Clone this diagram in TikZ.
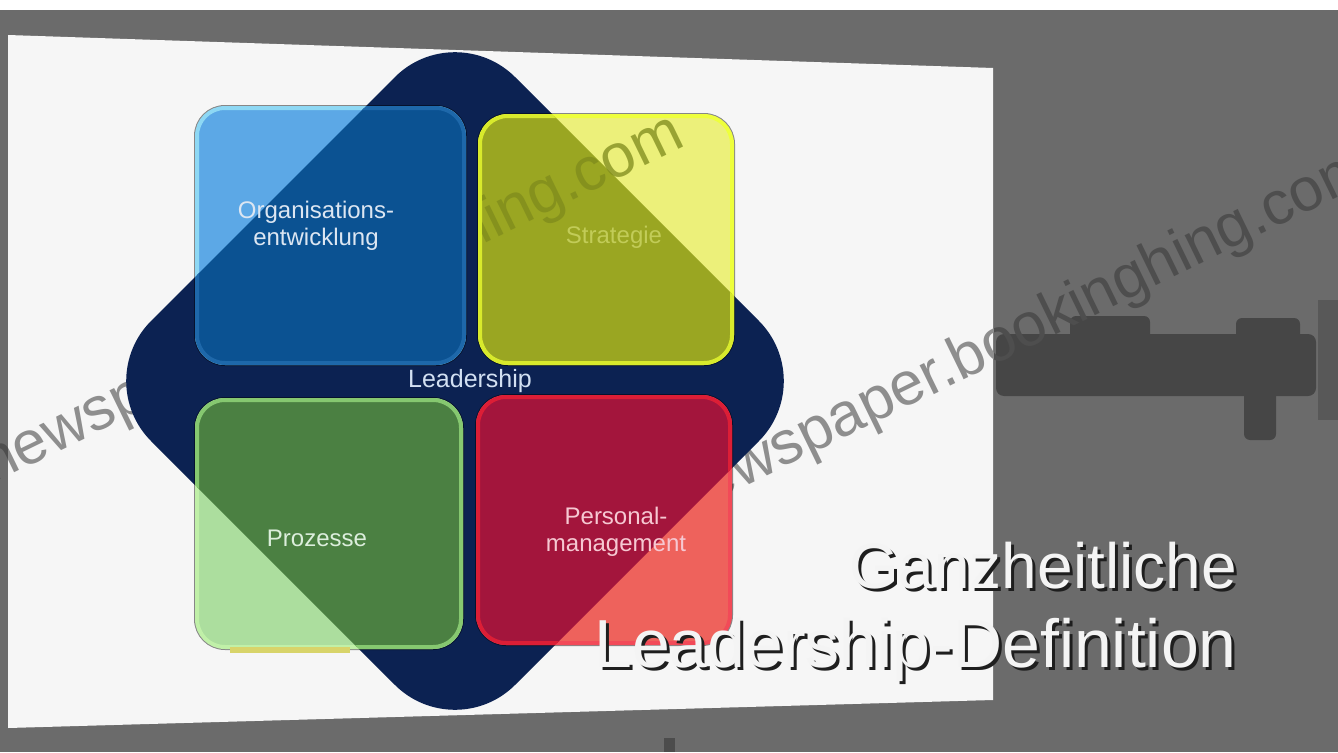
\documentclass[tikz,border=0pt]{standalone}
\usepackage{fontspec}
\setmainfont{Liberation Sans}
\definecolor{bgG}{HTML}{6B6B6B}
\definecolor{slideW}{HTML}{F6F6F6}
\definecolor{navy}{HTML}{0C2252}
\definecolor{bluL}{HTML}{5CA8E6}
\definecolor{bluD}{HTML}{0B5292}
\definecolor{bluRL}{HTML}{8ED8F4}
\definecolor{bluRD}{HTML}{1E68AA}
\definecolor{yelL}{HTML}{ECF07A}
\definecolor{yelD}{HTML}{9AA622}
\definecolor{yelRL}{HTML}{EEFF3C}
\definecolor{yelRD}{HTML}{D8EA2C}
\definecolor{grnL}{HTML}{ACDE9E}
\definecolor{grnD}{HTML}{4B8042}
\definecolor{grnRL}{HTML}{C0F0A8}
\definecolor{grnRD}{HTML}{86C870}
\definecolor{redL}{HTML}{EE625C}
\definecolor{redD}{HTML}{A3153C}
\definecolor{redRL}{HTML}{F24A58}
\definecolor{redRD}{HTML}{DC1E36}
\definecolor{blobG}{HTML}{464646}
\definecolor{wmG}{HTML}{8E8E8E}
\definecolor{wmDark}{HTML}{4E4E4E}
\definecolor{wmOl}{HTML}{7E8A1C}
\definecolor{lblB}{HTML}{DCE6F2}
\definecolor{lblY}{HTML}{C2CC58}
\definecolor{lblL}{HTML}{D2E0F2}
\definecolor{lblG}{HTML}{DCEEDC}
\definecolor{lblR}{HTML}{F6C8D2}
\definecolor{shd}{HTML}{1E1E1E}
\definecolor{ttlW}{HTML}{F4F4F4}
\definecolor{stripY}{HTML}{D8D46A}
\begin{document}
\begin{tikzpicture}[x=1pt,y=-1pt,
  sq/.style={rounded corners=28},
  rim/.style={rounded corners=28, line width=4},
  edge/.style={rounded corners=28, line width=6, draw=black, draw opacity=0.45},
  lbl/.style={font=\fontsize{24}{27}\selectfont, align=center, inner sep=0},
  wm/.style={font=\fontsize{61}{61}\selectfont, inner sep=0, anchor=base west, rotate=26},
  ttl/.style={inner sep=0, anchor=base east}
]
\useasboundingbox (0,0) rectangle (1338,752);
% background and slide
\fill[bgG] (0,0) rectangle (1338,752);
\fill[white] (0,0) rectangle (1338,10);
% blurred dark shape on the right
\fill[blobG, rounded corners=8] (996,334) rectangle (1316,396);
\fill[blobG, rounded corners=6] (1070,316) rectangle (1150,340);
\fill[blobG, rounded corners=6] (1236,318) rectangle (1300,340);
\fill[blobG, rounded corners=6] (1244,390) rectangle (1276,440);
\fill[blobG, opacity=0.5] (1318,300) rectangle (1338,420);
\fill[black!70] (664,738) rectangle (675,752);
% watermark over the grey surround
\node[wm, text=wmDark] (wmA0) at (-8,484) {newspaper.bookinghing.com};
\node[wm, text=wmDark] (wmB0) at (680,518) {newspaper.bookinghing.com};
% slide
\fill[slideW] (8,35) -- (993,68) -- (993,700) -- (8,728) -- cycle;
\begin{scope}
\clip (8,35) -- (993,68) -- (993,700) -- (8,728) -- cycle;
\node[wm, text=wmG] (wmA) at (-8,484) {newspaper.bookinghing.com};
\node[wm, text=wmG] (wmB) at (680,518) {newspaper.bookinghing.com};
\end{scope}
% navy diamond
\fill[navy, rounded corners=85] (637,199) -- (819,381) -- (455,745) -- (91,381) -- (455,17) -- cycle;
% squares: light parts
\draw[edge] (197,108) rectangle (464,363);
\draw[edge] (480,116) rectangle (732,363);
\draw[edge] (197,400) rectangle (461,647);
\draw[edge] (478,397) rectangle (730,643);
\fill[bluL, sq] (197,108) rectangle (464,363);
\draw[bluRL, rim] (197,108) rectangle (464,363);
\fill[yelL, sq] (480,116) rectangle (732,363);
\draw[yelRL, rim] (480,116) rectangle (732,363);
\fill[grnL, sq] (197,400) rectangle (461,647);
\draw[grnRL, rim] (197,400) rectangle (461,647);
\fill[redL, sq] (478,397) rectangle (730,643);
\draw[redRL, rim] (478,397) rectangle (730,643);
% squares: parts over the diamond
\begin{scope}
\clip[rounded corners=85] (637,199) -- (819,381) -- (455,745) -- (91,381) -- (455,17) -- cycle;
\fill[bluD, sq] (197,108) rectangle (464,363);
\draw[bluRD, rim] (197,108) rectangle (464,363);
\fill[yelD, sq] (480,116) rectangle (732,363);
\draw[yelRD, rim] (480,116) rectangle (732,363);
\fill[grnD, sq] (197,400) rectangle (461,647);
\draw[grnRD, rim] (197,400) rectangle (461,647);
\fill[redD, sq] (478,397) rectangle (730,643);
\draw[redRD, rim] (478,397) rectangle (730,643);
\end{scope}
\fill[stripY] (230,647) rectangle (350,653);
% watermark showing through the yellow square
\begin{scope}
\clip[rounded corners=26] (482,118) rectangle (730,361);
\node[wm, text=wmOl, opacity=0.75] (wmY) at (-8,484) {newspaper.bookinghing.com};
\end{scope}
% labels
\node[lbl, text=lblB] (org) at (316,226) {Organisations-\\entwicklung};
\node[lbl, text=lblY] (str) at (614,237) {Strategie};
\node[lbl, text=lblL, font=\fontsize{25}{25}\selectfont] (lead) at (470,381) {Leadership};
\node[lbl, text=lblG] (pro) at (317,538) {Prozesse};
\node[lbl, text=lblR] (per) at (616,532) {Personal-\\management};
% title
\node[ttl, text=shd, font=\fontsize{64}{64}\selectfont] (t1s) at (1240,591) {Ganzheitliche};
\node[ttl, text=ttlW, font=\fontsize{64}{64}\selectfont] (t1) at (1237,588) {Ganzheitliche};
\node[ttl, text=shd, font=\fontsize{68}{68}\selectfont] (t2s) at (1240,670) {Leadership-Definition};
\node[ttl, text=ttlW, font=\fontsize{68}{68}\selectfont] (t2) at (1237,667) {Leadership-Definition};
\end{tikzpicture}
\end{document}
